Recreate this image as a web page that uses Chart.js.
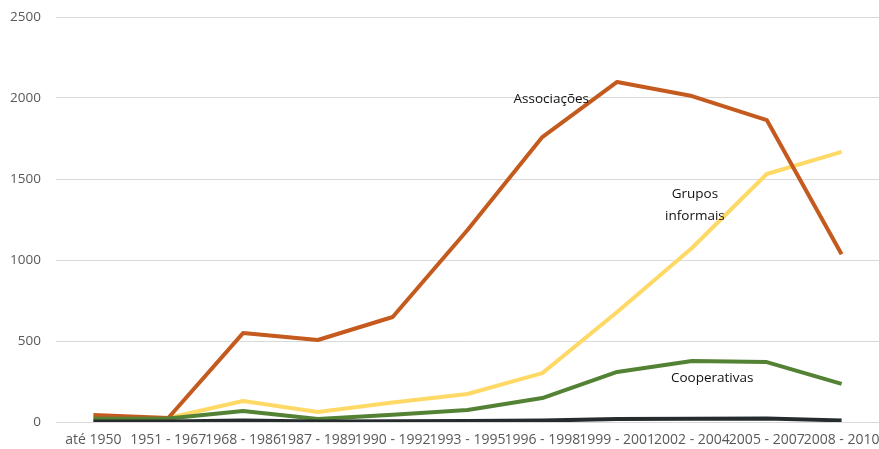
<!DOCTYPE html>
<html>
<head>
<meta charset="utf-8">
<script src="https://cdn.jsdelivr.net/npm/chart.js@4/dist/chart.umd.min.js"></script>
<style>
html,body{margin:0;padding:0;background:#fff;}
#wrap{width:879px;height:449px;}
</style>
</head>
<body>
<div id="wrap"><canvas id="c" width="879" height="449"></canvas></div>
<script>
const categories = ["até 1950","1951 - 1967","1968 - 1986","1987 - 1989","1990 - 1992","1993 - 1995","1996 - 1998","1999 - 2001","2002 - 2004","2005 - 2007","2008 - 2010"];
const associacoes = [43, 25, 549, 506, 648, 1185, 1759, 2099, 2012, 1864, 1035];
const gruposInformais = [20, 25, 130, 62, 120, 173, 302, 679, 1074, 1531, 1667];
const cooperativas = [20, 22, 68, 18, 45, 74, 148, 309, 377, 370, 235];
const outros = [3, 3, 10, 3, 4, 6, 9, 18, 20, 22, 10];
const yTicks = [0, 500, 1000, 1500, 2000, 2500];
// annotation labels: [text lines, category position, value]
const annotations = [
  {lines:["Associações"], pos:6.12, value:1994},
  {lines:["Grupos","informais"], pos:8.04, value:1407},
  {lines:["Cooperativas"], pos:8.27, value:268}
];

const labelPlugin = {
  id:'labels',
  afterDatasetsDraw(chart){
    const ctx = chart.ctx, xs = chart.scales.x, ys = chart.scales.y;
    ctx.save();
    ctx.font = '13.5px "Open Sans", sans-serif';
    ctx.fillStyle = '#111111';
    ctx.textAlign = 'center';
    ctx.textBaseline = 'middle';
    annotations.forEach(a=>{
      const i = Math.floor(a.pos), f = a.pos - i;
      const x = xs.getPixelForValue(i) + f*(xs.getPixelForValue(i+1)-xs.getPixelForValue(i));
      const y0 = ys.getPixelForValue(a.value);
      a.lines.forEach((t,k)=>ctx.fillText(t, x, y0 + k*22));
    });
    ctx.restore();
  }
};

function ds(label, data, color){
  return {label, data, borderColor:color, backgroundColor:color, borderWidth:4, pointRadius:0, tension:0, fill:false, borderCapStyle:'butt', borderJoinStyle:'round'};
}

new Chart(document.getElementById('c'), {
  type:'line',
  data:{
    labels:categories,
    datasets:[
      ds('Outros', outros, '#262c2e'),
      ds('Cooperativas', cooperativas, '#548235'),
      ds('Associações', associacoes, '#c55a1e'),
      ds('Grupos informais', gruposInformais, '#ffd966')
    ]
  },
  options:{
    responsive:false,
    animation:false,
    devicePixelRatio:1,
    layout:{padding:{top:17,right:0,left:0,bottom:0}},
    plugins:{legend:{display:false},tooltip:{enabled:false}},
    scales:{
      x:{
        offset:true,
        grid:{display:false,drawTicks:false},
        border:{display:false},
        afterFit(axis){axis.height = 27; axis.paddingLeft = 0; axis.paddingRight = 0;},
        ticks:{maxRotation:0,minRotation:0,autoSkip:false,color:'#595959',font:{family:'"Open Sans", sans-serif',size:14},padding:10}
      },
      y:{
        min:0,max:2500,
        afterBuildTicks(axis){axis.ticks = yTicks.map(v=>({value:v}));},
        afterFit(axis){axis.width = 56; axis.paddingTop = 0; axis.paddingBottom = 0;},
        grid:{color:'#d9d9d9',drawTicks:false,lineWidth:1},
        border:{display:false},
        ticks:{color:'#595959',font:{family:'"Open Sans", sans-serif',size:13.5},padding:15,callback:(v)=>String(v)}
      }
    }
  },
  plugins:[labelPlugin]
});
</script>
</body>
</html>
